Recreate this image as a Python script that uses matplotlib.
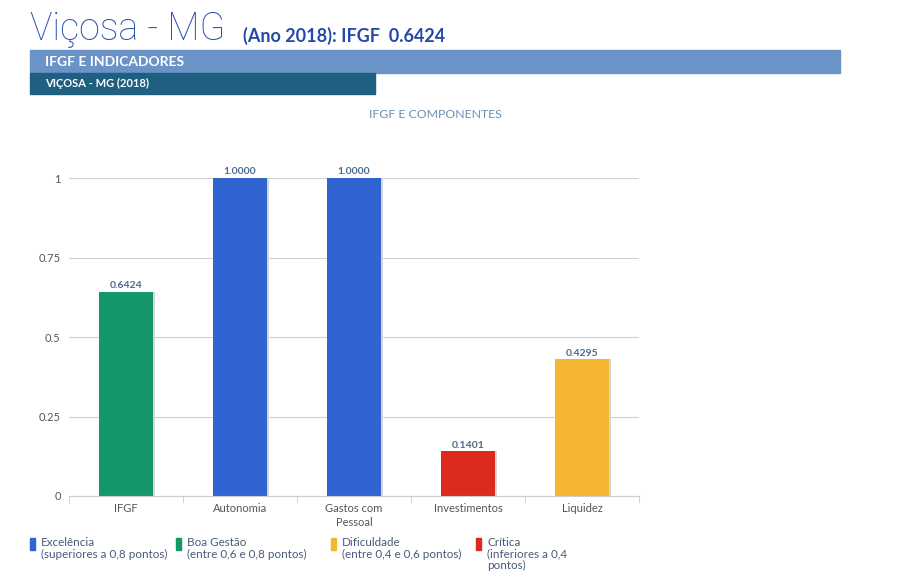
import matplotlib
matplotlib.use("Agg")
import matplotlib.pyplot as plt
from matplotlib.patches import Rectangle
import numpy as np

categories = ["IFGF", "Autonomia", "Gastos com\nPessoal", "Investimentos", "Liquidez"]
values = [0.6424, 1.0000, 1.0000, 0.1401, 0.4295]
colors = ["#16976a", "#3064d0", "#3064d0", "#dc2a1e", "#f5b731"]
yticks = [0, 0.25, 0.5, 0.75, 1]
ytick_labels = ["0", "0.25", "0.5", "0.75", "1"]
legend_colors = ["#3064d0", "#16976a", "#f5b731", "#dc2a1e"]
legend_titles = ["Excelência", "Boa Gestão", "Dificuldade", "Crítica"]
legend_subs = ["(superiores a 0,8 pontos)", "(entre 0,6 e 0,8 pontos)",
               "(entre 0,4 e 0,6 pontos)", "(inferiores a 0,4\npontos)"]

plt.rcParams['font.family'] = ['Lato', 'DejaVu Sans']

W, H = 919, 579
fig = plt.figure(figsize=(W/100, H/100), dpi=100)

def fx(px): return px / W
def fy(py): return 1 - py / H

# Header
fig.text(fx(30), fy(40), "Viçosa - MG", fontsize=27, color="#2b4fae",
         family=["Roboto", "DejaVu Sans"], fontweight="light",
         va="baseline", ha="left")
fig.text(fx(243), fy(42), "(Ano 2018): IFGF  0.6424", fontsize=13, color="#2449a8",
         fontweight="bold", va="baseline", ha="left")
fig.patches.append(Rectangle((fx(30), fy(73)), fx(840-30), (73-50)/H,
                             transform=fig.transFigure, color="#6a93c8", zorder=0))
fig.text(fx(45), fy(61.5), "IFGF E INDICADORES", fontsize=10, color="white",
         fontweight="bold", va="center", ha="left")
fig.patches.append(Rectangle((fx(30), fy(94)), fx(375-30), (94-73)/H,
                             transform=fig.transFigure, color="#1f5f7f", zorder=0))
fig.text(fx(45), fy(83.5), "VIÇOSA - MG (2018)", fontsize=8, color="white",
         fontweight="bold", va="center", ha="left")
fig.text(fx(435), fy(115), "IFGF E COMPONENTES", fontsize=8.8, color="#6d8fb3",
         va="center", ha="center")

# Axes
ax = fig.add_axes([fx(69), fy(496), (639-69)/W, (496-178)/H])
x = np.arange(len(categories))
bw = 0.47
shift = 2.5 / 114
ax.bar(x + shift, values, width=bw, color="#d6d6d6", zorder=2)
ax.bar(x, values, width=bw, color=colors, zorder=3)
for xi, v in zip(x, values):
    ax.text(xi, v + 0.006, f"{v:.4f}", ha="center", va="bottom", fontsize=7.5,
            fontweight="bold", color="#4a6a8f", zorder=4, clip_on=False)

ax.set_xlim(-0.5, len(categories) - 0.5)
ax.set_ylim(0, 1)
ax.set_yticks(yticks)
ax.set_yticklabels(ytick_labels)
ax.set_xticks(x)
ax.set_xticklabels(categories, linespacing=1.3)
ax.set_xticks(np.arange(-0.5, len(categories)), minor=True)
ax.tick_params(axis="x", which="major", length=0, pad=5, labelsize=8, labelcolor="#555555")
ax.tick_params(axis="x", which="minor", length=5, color="#cccccc")
ax.tick_params(axis="y", length=0, pad=6, labelsize=8, labelcolor="#555555")
ax.grid(axis="y", color="#d0d0d0", linewidth=0.8, zorder=0)
ax.set_axisbelow(True)
for s in ["left", "right", "top"]:
    ax.spines[s].set_visible(False)
ax.spines["bottom"].set_color("#cccccc")
ax.spines["bottom"].set_zorder(5)

# Legend
leg_x = [30, 176, 331, 476]
for lx, c, t, s in zip(leg_x, legend_colors, legend_titles, legend_subs):
    fig.patches.append(Rectangle((fx(lx), fy(550)), fx(4.5), 12/H,
                                 transform=fig.transFigure, color=c))
    lines = [t] + s.split("\n")
    for i, line in enumerate(lines):
        fig.text(fx(lx + 11), fy(543 + 11 * i), line, fontsize=8.4, color="#4a5a7a",
                 va="center", ha="left")

fig.savefig("out.png", dpi=100)
